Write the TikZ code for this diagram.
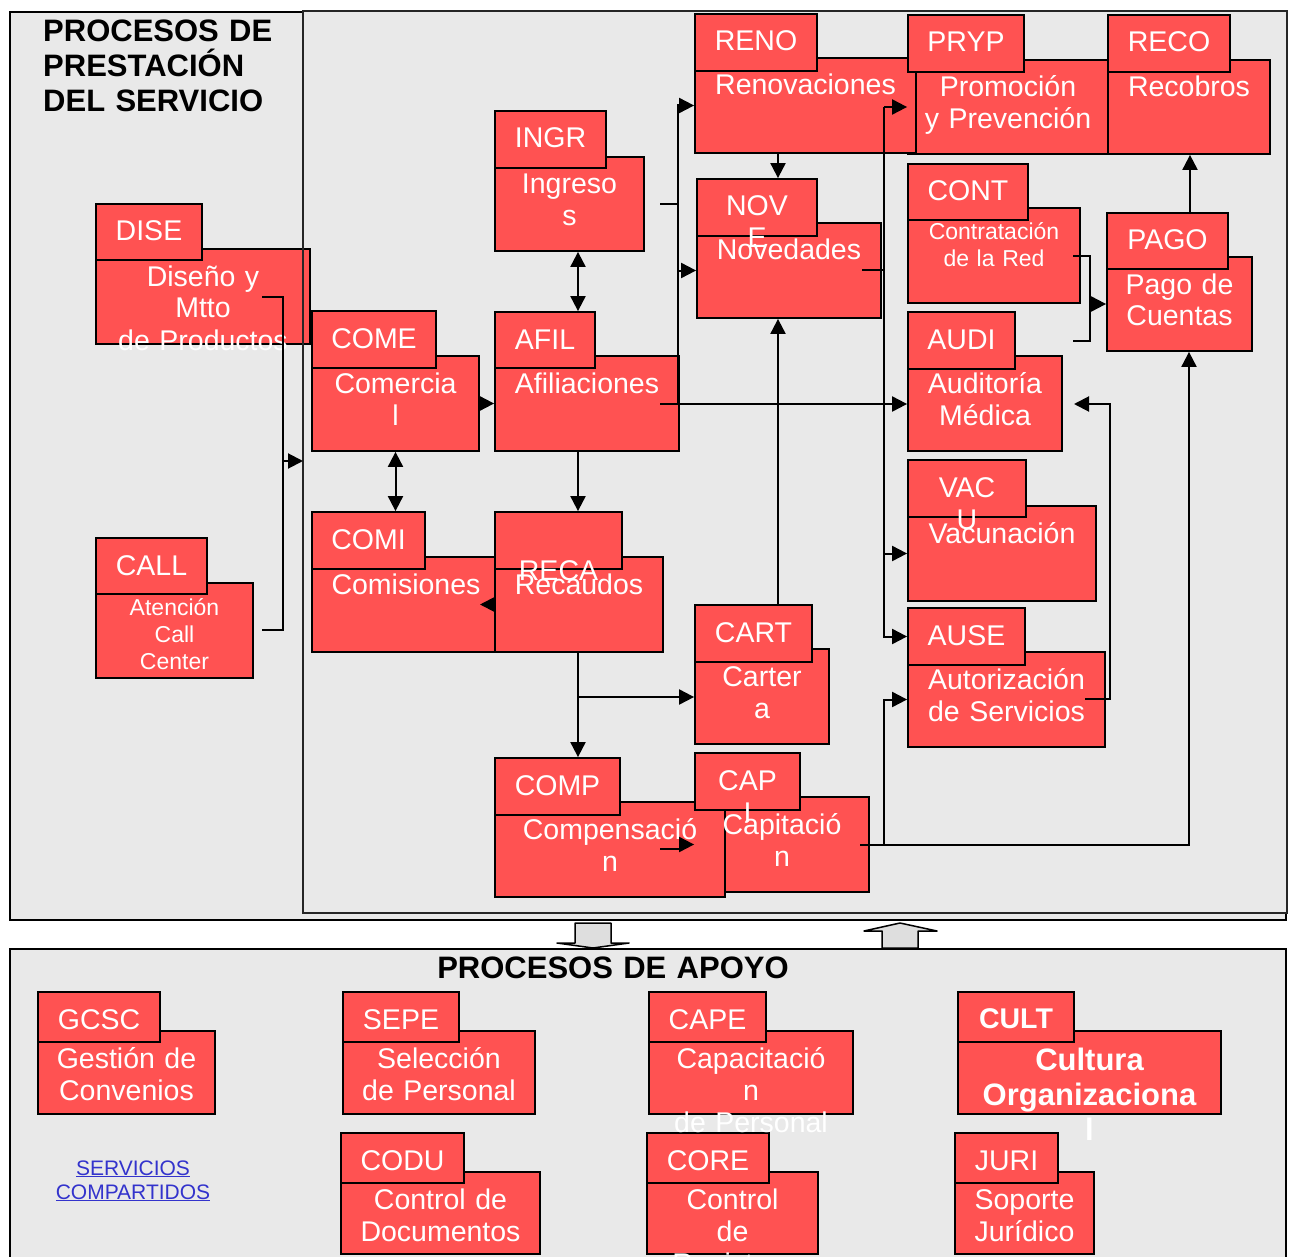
\documentclass[tikz,border=0pt]{standalone}
\usepackage{fontspec}
\setmainfont{Liberation Sans}
\usetikzlibrary{arrows.meta,fit,calc}
\definecolor{procred}{RGB}{255,82,82}
\definecolor{panelgray}{RGB}{233,233,233}
\definecolor{blockgray}{RGB}{222,222,222}
\definecolor{linkblue}{RGB}{51,51,204}

\begin{document}
\begin{tikzpicture}[x=1pt,y=-1pt,
  panel/.style={draw=black, line width=2pt, fill=panelgray, inner sep=0pt},
  box/.style={draw=black, line width=1.8pt, fill=procred, inner sep=0pt},
  txt/.style={text=white, text width=460pt, align=center, anchor=base, inner sep=0pt,
              font=\fontsize{28.5}{32}\selectfont},
  smalltxt/.style={txt, font=\fontsize{23}{27}\selectfont},
  boldtxt/.style={txt, font=\bfseries\fontsize{31}{35}\selectfont},
  boldcode/.style={txt, font=\bfseries\fontsize{28.5}{32}\selectfont},
  linktxt/.style={txt, text=linkblue, font=\fontsize{21}{24}\selectfont},
  title/.style={txt, text=black, font=\bfseries\fontsize{31}{35}\selectfont},
  wire/.style={line width=2pt},
  arr/.style={line width=2pt, -{Triangle[length=15pt,width=15pt]}},
  dbl/.style={line width=2pt, {Triangle[length=15pt,width=15pt]}-{Triangle[length=15pt,width=15pt]}},
  blk/.style={draw=black, line width=1.5pt, fill=blockgray, line join=round},
]
\useasboundingbox (0,0) rectangle (1292,1257);
\clip (0,0) rectangle (1292,1257);
\fill[white] (0,0) rectangle (1292,1257);

% ---------- panels ----------
\node[panel, fit={(10,12)(1286,920)}] (prest) {};
\node[panel, draw=none, fit={(304,12)(1286,912)}] (flujo) {};
\node[panel, fit={(10,949)(1286,1300)}] (apoyo) {};

% ---------- process bodies ----------
\node[box, fit={(96,249)(310,344)}] (dise) {};
\node[box, fit={(96,583)(253,678)}] (call) {};
\node[box, fit={(312,356)(479,451)}] (come) {};
\node[box, fit={(495,157)(644,251)}] (ingr) {};
\node[box, fit={(495,356)(679,451)}] (afil) {};
\node[box, fit={(908,60)(1108,154)}] (pryp) {};
\node[box, fit={(695,58)(916,153)}] (reno) {};
\node[box, fit={(1108,60)(1270,154)}] (reco) {};
\node[box, fit={(697,223)(881,318)}] (nove) {};
\node[box, fit={(908,208)(1080,303)}] (cont) {};
\node[box, fit={(1107,257)(1252,351)}] (pago) {};
\node[box, fit={(908,356)(1062,451)}] (audi) {};
\node[box, fit={(908,506)(1096,601)}] (vacu) {};
\node[box, fit={(908,652)(1105,747)}] (ause) {};
\node[box, fit={(312,557)(500,652)}] (comi) {};
\node[box, fit={(495,557)(663,652)}] (reca) {};
\node[box, fit={(695,649)(829,744)}] (cart) {};
\node[box, fit={(695,797)(869,892)}] (capi) {};
\node[box, fit={(495,802)(725,897)}] (comp) {};
\node[box, fit={(38,1031)(215,1114)}] (gcsc) {};
\node[box, fit={(343,1031)(535,1114)}] (sepe) {};
\node[box, fit={(649,1031)(853,1114)}] (cape) {};
\node[box, fit={(958,1031)(1221,1114)}] (cult) {};
\node[box, fit={(341,1172)(540,1254)}] (codu) {};
\node[box, fit={(647,1172)(818,1254)}] (core) {};
\node[box, fit={(955,1172)(1094,1254)}] (juri) {};

% ---------- code tabs ----------
\node[box, fit={(96,204)(202,260)}] (dise-tab) {};
\node[box, fit={(96,538)(207,594)}] (call-tab) {};
\node[box, fit={(312,311)(436,368)}] (come-tab) {};
\node[box, fit={(495,111)(606,168)}] (ingr-tab) {};
\node[box, fit={(495,312)(595,368)}] (afil-tab) {};
\node[box, fit={(695,14)(817,71)}] (reno-tab) {};
\node[box, fit={(908,15)(1024,72)}] (pryp-tab) {};
\node[box, fit={(1108,15)(1230,72)}] (reco-tab) {};
\node[box, fit={(697,179)(817,236)}] (nove-tab) {};
\node[box, fit={(908,164)(1028,220)}] (cont-tab) {};
\node[box, fit={(1107,213)(1228,269)}] (pago-tab) {};
\node[box, fit={(908,312)(1015,369)}] (audi-tab) {};
\node[box, fit={(908,460)(1026,517)}] (vacu-tab) {};
\node[box, fit={(908,608)(1025,665)}] (ause-tab) {};
\node[box, fit={(312,512)(425,569)}] (comi-tab) {};
\node[box, fit={(495,512)(622,569)}] (reca-tab) {};
\node[box, fit={(695,605)(812,662)}] (cart-tab) {};
\node[box, fit={(695,753)(800,810)}] (capi-tab) {};
\node[box, fit={(495,758)(620,815)}] (comp-tab) {};
\node[box, fit={(38,992)(160,1042)}] (gcsc-tab) {};
\node[box, fit={(343,992)(459,1042)}] (sepe-tab) {};
\node[box, fit={(649,992)(766,1042)}] (cape-tab) {};
\node[box, fit={(958,992)(1074,1042)}] (cult-tab) {};
\node[box, fit={(341,1133)(464,1183)}] (codu-tab) {};
\node[box, fit={(647,1133)(769,1183)}] (core-tab) {};
\node[box, fit={(955,1133)(1058,1183)}] (juri-tab) {};

% inner frame of the service flow
\draw[line width=1.5pt, draw=black!85] (flujo.south west) rectangle (flujo.north east);

% ---------- titles ----------
\node[title, anchor=base west, align=left] (t-prest) at (43,42) {PROCESOS DE\\PRESTACIÓN\\DEL SERVICIO};
\node[title] (t-apoyo) at (613,978) {PROCESOS DE APOYO};

% ---------- codes ----------
\node[txt] at (149,241) {DISE};
\node[txt] at (151.5,575) {CALL};
\node[txt] at (374,348) {COME};
\node[txt] at (550.5,148) {INGR};
\node[txt] at (545,349) {AFIL};
\node[txt] at (756,51) {RENO};
\node[txt] at (966,52) {PRYP};
\node[txt] at (1169,52) {RECO};
\node[txt] at (757,216) {NOV\\E};
\node[txt] at (968,201) {CONT};
\node[txt] at (1167.5,250) {PAGO};
\node[txt] at (961.5,349) {AUDI};
\node[txt] at (967,497) {VAC\\U};
\node[txt] at (966.5,645) {AUSE};
\node[txt] at (368.5,549) {COMI};
\node[txt] at (558.5,580) {RECA};
\node[txt] at (753.5,642) {CART};
\node[txt] at (747.5,790) {CAP\\I};
\node[txt] at (557.5,795) {COMP};
\node[txt] at (99,1029) {GCSC};
\node[txt] at (401,1029) {SEPE};
\node[txt] at (707.5,1029) {CAPE};
\node[boldcode] at (1016,1028) {CULT};
\node[txt] at (402.5,1170) {CODU};
\node[txt] at (708,1170) {CORE};
\node[txt] at (1006.5,1170) {JURI};

% ---------- process names ----------
\node[txt] at (203,286) {Diseño y\\Mtto\\de Productos};
\node[smalltxt] at (174.5,615) {Atención\\Call\\Center};
\node[txt] at (395.5,393) {Comercia\\l};
\node[txt] at (569.5,194) {Ingreso\\s};
\node[txt] at (587,393) {Afiliaciones};
\node[txt] at (805.5,95) {Renovaciones};
\node[txt] at (1008,97) {Promoción\\y Prevención};
\node[txt] at (1189,97) {Recobros};
\node[txt] at (789,260) {Novedades};
\node[smalltxt] at (994,240) {Contratación\\de la Red};
\node[txt] at (1179.5,294) {Pago de\\Cuentas};
\node[txt] at (985,393) {Auditoría\\Médica};
\node[txt] at (1002,543) {Vacunación};
\node[txt] at (1006.5,689) {Autorización\\de Servicios};
\node[txt] at (406,594) {Comisiones};
\node[txt] at (579,594) {Recaudos};
\node[txt] at (762,686) {Carter\\a};
\node[txt] at (782,834) {Capitació\\n};
\node[txt] at (610,839) {Compensació\\n};
\node[txt] at (126.5,1068) {Gestión de\\Convenios};
\node[txt] at (439,1068) {Selección\\de Personal};
\node[txt] at (751,1068) {Capacitació\\n\\de Personal};
\node[boldtxt] at (1089.5,1070) {Cultura\\Organizaciona\\l};
\node[txt] at (440.5,1209) {Control de\\Documentos};
\node[txt] at (732.5,1209) {Control\\de\\Registros};
\node[txt] at (1024.5,1209) {Soporte\\Jurídico};
\node[linktxt] (shared) at (133,1175) {\underline{SERVICIOS}\\\underline{COMPARTIDOS}};

% ---------- connector anchors ----------
\coordinate (xa) at (578,0);
\coordinate (xb) at (778,0);
\coordinate (xp) at (1189,0);
\coordinate (xq) at (1090,0);
\coordinate (xr) at (1110,0);
\coordinate (xs) at (1190,0);
\coordinate (dise-out) at (262,297);
\coordinate (call-out) at (262,630);
\coordinate (feed) at (283,461);
\coordinate (ingr-out) at (660,204);
\coordinate (afil-out) at (660,404);
\coordinate (busL) at (678,404);
\coordinate (nove-out) at (862,270);
\coordinate (busR) at (884,107);
\coordinate (split) at (578,697);
\coordinate (comi-in) at (480,605);
\coordinate (comp-out) at (660,849);
\coordinate (capi-out) at (860,845);
\coordinate (ause-out) at (1085,699);
\coordinate (audi-in) at (1074,404);
\coordinate (cont-out) at (1073,256);
\coordinate (audi-out) at (1073,341);

% ---------- connectors ----------
\draw[wire] (dise-out) -| (feed);
\draw[wire] (call-out) -| (feed);
\draw[arr] (feed) -- (feed -| flujo.west);

\draw[dbl] (come.south) -- (come.south |- comi-tab.north);
\draw[arr] (come.east) -- (come.east -| afil.west);
\draw[dbl] (ingr.south -| xa) -- (afil-tab.north -| xa);
\draw[arr] (afil.south -| xa) -- (reca-tab.north -| xa);
\draw[arr] (reca.south -| xa) -- (comp-tab.north -| xa);
\draw[arr] (split) -- (split -| cart.west);
\draw[arr] (reca.west) -- (reca.west -| comi-in);
\draw[arr] (comp-out) -- ++(20,0) |- (capi.west);

\draw[arr] (reno.south -| xb) -- (nove-tab.north -| xb);
\draw[arr] (cart-tab.north -| xb) -- (nove.south -| xb);

\draw[wire] (ingr-out) -- (ingr-out -| busL);
\draw[arr] (busL) |- (reno.west);
\draw[arr] (busL |- nove.west) -- (nove.west);
\draw[arr] (afil-out) -- (afil-out -| audi.west);

\draw[wire] (nove-out) -- (nove-out -| busR);
\draw[arr] (busR) -- (busR -| pryp.west);
\draw[arr] (busR) |- (ause-tab.west);
\draw[arr] (busR |- vacu.west) -- (vacu.west);

\draw[arr] (capi-out) -| (pago.south -| xp);
\draw[arr] (busR |- capi-out) |- (ause.west);
\draw[arr] (ause-out) -| (xr |- audi-in) -- (audi-in);

\draw[wire] (cont-out) -| (xq |- audi-out) -- (audi-out);
\draw[arr] (xq |- pago.west) -- (pago.west);
\draw[arr] (pago-tab.north -| xs) -- (reco.south -| xs);

% ---------- block arrows between the two panels ----------
\draw[blk] (575,923) -- (611,923) -- (611,943) -- (629,943) -- (593,948)
           -- (557,943) -- (575,943) -- cycle;
\draw[blk] (882,948) -- (882,931) -- (864,931) -- (900,923) -- (937,931)
           -- (918,931) -- (918,948) -- cycle;
\end{tikzpicture}
\end{document}
